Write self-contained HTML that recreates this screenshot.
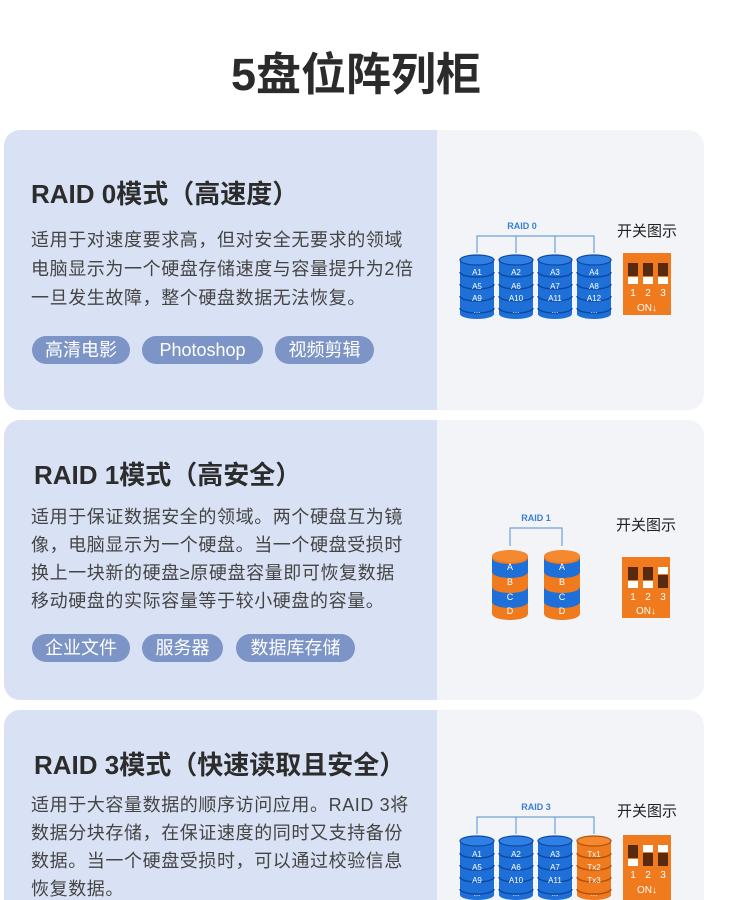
<!DOCTYPE html>
<html style="overflow:hidden;height:900px"><head><meta charset="utf-8"><style>
*{margin:0;padding:0;box-sizing:border-box}
body{width:737px;height:900px;background:#fff;position:relative;overflow:hidden;font-family:"Liberation Sans","Noto Sans CJK SC",sans-serif;color:#333}
.a{position:absolute;white-space:nowrap}
.card{position:absolute;left:4px;width:700px;border-radius:16px;overflow:hidden;background:#f2f4f8}
.card .l{position:absolute;left:0;top:0;bottom:0;width:433px;background:#d9e2f4}
h1{position:absolute;left:0;width:712px;text-align:center;top:38px;font-size:45px;font-weight:bold;color:#2b2b2b}
.h{font-size:26px;font-weight:bold;color:#2c2c2c}
.p{font-size:18px;color:#444;letter-spacing:0.6px}
.tag{position:absolute;height:28px;line-height:28px;border-radius:14px;background:#7d94c6;color:#fff;font-size:18px;text-align:center}
.sw{font-size:15px;color:#222}
</style></head><body>
<h1>5盘位阵列柜</h1>
<div class="card" style="top:130px;height:280px"><div class="l"></div></div>
<div class="card" style="top:420px;height:280px"><div class="l"></div></div>
<div class="card" style="top:710px;height:190px;border-bottom-left-radius:0;border-bottom-right-radius:0"><div class="l"></div></div>

<div class="a h" style="left:31px;top:174px">RAID 0模式（高速度）</div>
<div class="a p" style="left:31px;top:226px;line-height:29px">适用于对速度要求高，但对安全无要求的领域<br>电脑显示为一个硬盘存储速度与容量提升为2倍<br>一旦发生故障，整个硬盘数据无法恢复。</div>
<div class="tag" style="left:32px;top:336px;width:98px">高清电影</div>
<div class="tag" style="left:142px;top:336px;width:121px">Photoshop</div>
<div class="tag" style="left:275px;top:336px;width:99px">视频剪辑</div>

<div class="a h" style="left:34px;top:455px">RAID 1模式（高安全）</div>
<div class="a p" style="left:31px;top:503px;line-height:28px">适用于保证数据安全的领域。两个硬盘互为镜<br>像，电脑显示为一个硬盘。当一个硬盘受损时<br>换上一块新的硬盘≥原硬盘容量即可恢复数据<br>移动硬盘的实际容量等于较小硬盘的容量。</div>
<div class="tag" style="left:32px;top:634px;width:98px">企业文件</div>
<div class="tag" style="left:142px;top:634px;width:81px">服务器</div>
<div class="tag" style="left:236px;top:634px;width:119px">数据库存储</div>

<div class="a h" style="left:34px;top:745px">RAID 3模式（快速读取且安全）</div>
<div class="a p" style="left:31px;top:791px;line-height:28px">适用于大容量数据的顺序访问应用。RAID 3将<br>数据分块存储，在保证速度的同时又支持备份<br>数据。当一个硬盘受损时，可以通过校验信息<br>恢复数据。</div>

<div class="a sw" style="left:617px;top:220px">开关图示</div>
<div class="a sw" style="left:616px;top:514px">开关图示</div>
<div class="a sw" style="left:617px;top:800px">开关图示</div>

<svg class="a" style="left:0;top:0" width="737" height="900" font-family="Liberation Sans, sans-serif">
<defs>
<symbol id="cb" viewBox="0 0 34 64" overflow="visible">
<rect x="0" y="5" width="34" height="54" fill="#1f6fd8"/>
<ellipse cx="17" cy="59" rx="17" ry="5" fill="#1f6fd8"/>
<path d="M0,17 A17,5 0 0 0 34,17 M0,29 A17,5 0 0 0 34,29 M0,41 A17,5 0 0 0 34,41 M0,53 A17,5 0 0 0 34,53" fill="none" stroke="#0c4aa0" stroke-width="1.5"/>
<ellipse cx="17" cy="5" rx="17" ry="5" fill="#2f7fe4" stroke="#0c4aa0" stroke-width="1.2"/>
</symbol>
<symbol id="co" viewBox="0 0 34 64" overflow="visible">
<rect x="0" y="5" width="34" height="54" fill="#f07a1e"/>
<ellipse cx="17" cy="59" rx="17" ry="5" fill="#f07a1e"/>
<path d="M0,17 A17,5 0 0 0 34,17 M0,29 A17,5 0 0 0 34,29 M0,41 A17,5 0 0 0 34,41 M0,53 A17,5 0 0 0 34,53" fill="none" stroke="#b2500a" stroke-width="1.5"/>
<ellipse cx="17" cy="5" rx="17" ry="5" fill="#f5892f" stroke="#b2500a" stroke-width="1.2"/>
</symbol>
<symbol id="cm" viewBox="0 0 36 70" overflow="visible">
<rect x="0" y="52" width="36" height="12" fill="#f07a1e"/><ellipse cx="18" cy="64" rx="18" ry="6" fill="#f07a1e"/>
<rect x="0" y="37" width="36" height="15" fill="#1f6fd8"/><ellipse cx="18" cy="52" rx="18" ry="6" fill="#1f6fd8"/>
<rect x="0" y="22" width="36" height="15" fill="#f07a1e"/><ellipse cx="18" cy="37" rx="18" ry="6" fill="#f07a1e"/>
<rect x="0" y="8" width="36" height="14" fill="#1f6fd8"/><ellipse cx="18" cy="22" rx="18" ry="6" fill="#1f6fd8"/>
<rect x="0" y="6" width="36" height="2" fill="#f07a1e"/><ellipse cx="18" cy="8" rx="18" ry="6" fill="#f07a1e"/>
<ellipse cx="18" cy="6" rx="18" ry="6" fill="#f5892f"/>
</symbol>
</defs>
<!-- RAID 0 -->
<text x="522" y="229" font-size="9" font-weight="bold" fill="#3a7fd5" text-anchor="middle">RAID 0</text>
<path d="M477,253V236H594V253M516,236V253M555,236V253" fill="none" stroke="#6fa0dc" stroke-width="1.2"/>
<g font-size="8" fill="#fff" text-anchor="middle">
<use href="#cb" x="460" y="255" width="34" height="64"/><use href="#cb" x="499" y="255" width="34" height="64"/><use href="#cb" x="538" y="255" width="34" height="64"/><use href="#cb" x="577" y="255" width="34" height="64"/>
<text x="477" y="275">A1</text><text x="477" y="289">A5</text><text x="477" y="301">A9</text><text x="477" y="313">...</text>
<text x="516" y="275">A2</text><text x="516" y="289">A6</text><text x="516" y="301">A10</text><text x="516" y="313">...</text>
<text x="555" y="275">A3</text><text x="555" y="289">A7</text><text x="555" y="301">A11</text><text x="555" y="313">...</text>
<text x="594" y="275">A4</text><text x="594" y="289">A8</text><text x="594" y="301">A12</text><text x="594" y="313">...</text>
</g>
<rect x="623" y="253" width="48" height="62" fill="#f07a1e"/>
<rect x="628" y="263" width="10" height="13" fill="#5a2a10"/><rect x="628" y="277" width="10" height="7" fill="#fff"/>
<rect x="643" y="263" width="10" height="13" fill="#5a2a10"/><rect x="643" y="277" width="10" height="7" fill="#fff"/>
<rect x="658" y="263" width="10" height="13" fill="#5a2a10"/><rect x="658" y="277" width="10" height="7" fill="#fff"/>
<g fill="#fff" font-size="10" text-anchor="middle"><text x="633" y="296">1</text><text x="648" y="296">2</text><text x="663" y="296">3</text><text x="647" y="311" font-size="10">ON↓</text></g>

<!-- RAID 1 -->
<text x="536" y="521" font-size="9" font-weight="bold" fill="#3a7fd5" text-anchor="middle">RAID 1</text>
<path d="M510,546V528H562V546" fill="none" stroke="#6fa0dc" stroke-width="1.2"/>
<use href="#cm" x="492" y="550" width="36" height="70"/><use href="#cm" x="544" y="550" width="36" height="70"/>
<g font-size="9" fill="#fff" text-anchor="middle">
<text x="510" y="570">A</text><text x="510" y="585">B</text><text x="510" y="600">C</text><text x="510" y="614">D</text>
<text x="562" y="570">A</text><text x="562" y="585">B</text><text x="562" y="600">C</text><text x="562" y="614">D</text>
</g>
<rect x="622" y="557" width="48" height="61" fill="#f07a1e"/>
<rect x="628" y="567" width="10" height="13" fill="#5a2a10"/><rect x="628" y="581" width="10" height="7" fill="#fff"/>
<rect x="643" y="567" width="10" height="13" fill="#5a2a10"/><rect x="643" y="581" width="10" height="7" fill="#fff"/>
<rect x="658" y="567" width="10" height="7" fill="#fff"/><rect x="658" y="575" width="10" height="13" fill="#5a2a10"/>
<g fill="#fff" font-size="10" text-anchor="middle"><text x="633" y="600">1</text><text x="648" y="600">2</text><text x="663" y="600">3</text><text x="646" y="614">ON↓</text></g>

<!-- RAID 3 -->
<text x="536" y="810" font-size="9" font-weight="bold" fill="#3a7fd5" text-anchor="middle">RAID 3</text>
<path d="M477,834V817H594V834M516,817V834M555,817V834" fill="none" stroke="#6fa0dc" stroke-width="1.2"/>
<use href="#cb" x="460" y="836" width="34" height="64"/><use href="#cb" x="499" y="836" width="34" height="64"/><use href="#cb" x="538" y="836" width="34" height="64"/><use href="#co" x="577" y="836" width="34" height="64"/>
<g font-size="8" fill="#fff" text-anchor="middle">
<text x="477" y="857">A1</text><text x="477" y="870">A5</text><text x="477" y="883">A9</text><text x="477" y="896">...</text>
<text x="516" y="857">A2</text><text x="516" y="870">A6</text><text x="516" y="883">A10</text><text x="516" y="896">...</text>
<text x="555" y="857">A3</text><text x="555" y="870">A7</text><text x="555" y="883">A11</text><text x="555" y="896">...</text>
<text x="594" y="857">Tx1</text><text x="594" y="870">Tx2</text><text x="594" y="883">Tx3</text><text x="594" y="896">...</text>
</g>
<rect x="623" y="835" width="48" height="65" fill="#f07a1e"/>
<rect x="628" y="845" width="10" height="13" fill="#5a2a10"/><rect x="628" y="859" width="10" height="7" fill="#fff"/>
<rect x="643" y="845" width="10" height="7" fill="#fff"/><rect x="643" y="853" width="10" height="13" fill="#5a2a10"/>
<rect x="658" y="845" width="10" height="7" fill="#fff"/><rect x="658" y="853" width="10" height="13" fill="#5a2a10"/>
<g fill="#fff" font-size="10" text-anchor="middle"><text x="633" y="878">1</text><text x="648" y="878">2</text><text x="663" y="878">3</text><text x="647" y="893">ON↓</text></g>
</svg>
</body></html>
